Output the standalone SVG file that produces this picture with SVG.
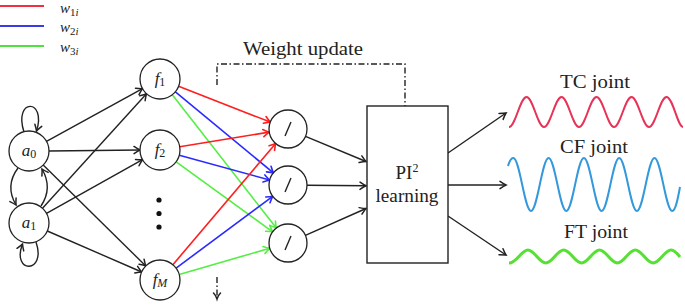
<svg xmlns="http://www.w3.org/2000/svg" width="685" height="307" viewBox="0 0 685 307">
  <style>
    .node { fill: #ffffff; stroke: #222222; stroke-width: 1.3; }
    .edge { fill: none; stroke: #222222; stroke-width: 1.4; }
    .red { fill: none; stroke: #ff1f1f; stroke-width: 1.6; }
    .blue { fill: none; stroke: #2a2aff; stroke-width: 1.6; }
    .green { fill: none; stroke: #55ee44; stroke-width: 1.6; }
    .dashdot { fill: none; stroke: #222222; stroke-width: 1.4; stroke-dasharray: 6 2.5 1.5 2.5; }
    .lbl { font-family: "Liberation Serif", "DejaVu Serif", serif; fill: #222222; }
    .math { font-family: "Liberation Serif", "DejaVu Serif", serif; fill: #222222; font-style: italic; }
  </style>
  <defs>
    <marker id="arrK" viewBox="-8 -5 10 10" refX="0" refY="0" markerWidth="10" markerHeight="10" markerUnits="userSpaceOnUse" orient="auto">
      <path d="M -6 -3.6 Q -2 -0.9 0 0 Q -2 0.9 -6 3.6" fill="none" stroke="#222222" stroke-width="1.5" stroke-linecap="round"/>
    </marker>
    <marker id="arrR" viewBox="-8 -5 10 10" refX="0" refY="0" markerWidth="10" markerHeight="10" markerUnits="userSpaceOnUse" orient="auto">
      <path d="M -6 -3.6 Q -2 -0.9 0 0 Q -2 0.9 -6 3.6" fill="none" stroke="#ff1f1f" stroke-width="1.6" stroke-linecap="round"/>
    </marker>
    <marker id="arrB" viewBox="-8 -5 10 10" refX="0" refY="0" markerWidth="10" markerHeight="10" markerUnits="userSpaceOnUse" orient="auto">
      <path d="M -6 -3.6 Q -2 -0.9 0 0 Q -2 0.9 -6 3.6" fill="none" stroke="#2a2aff" stroke-width="1.6" stroke-linecap="round"/>
    </marker>
    <marker id="arrG" viewBox="-8 -5 10 10" refX="0" refY="0" markerWidth="10" markerHeight="10" markerUnits="userSpaceOnUse" orient="auto">
      <path d="M -6 -3.6 Q -2 -0.9 0 0 Q -2 0.9 -6 3.6" fill="none" stroke="#55ee44" stroke-width="1.6" stroke-linecap="round"/>
    </marker>
  </defs>

  <rect width="685" height="307" fill="#ffffff"/>

  <!-- legend for the three weight sets -->
  <g id="legend">
    <line x1="0" y1="6" x2="44" y2="6" stroke="#f03040" stroke-width="2"/>
    <line x1="0" y1="26" x2="44" y2="26" stroke="#3a3ae8" stroke-width="2"/>
    <line x1="0" y1="46" x2="44" y2="46" stroke="#50e040" stroke-width="2"/>
    <text class="math" x="60" y="13" font-size="15">w<tspan font-size="11" font-style="normal" dy="2.5">1</tspan><tspan font-size="11">i</tspan></text>
    <text class="math" x="60" y="32" font-size="15">w<tspan font-size="11" font-style="normal" dy="2.5">2</tspan><tspan font-size="11">i</tspan></text>
    <text class="math" x="60" y="52" font-size="15">w<tspan font-size="11" font-style="normal" dy="2.5">3</tspan><tspan font-size="11">i</tspan></text>
  </g>

  <!-- connectors -->
  <g id="connectors">
    <!-- recurrent links between a0 and a1 -->
    <path class="edge" d="M 24 132 C 13 98, 47 98, 36.5 131" marker-end="url(#arrK)"/>
    <path class="edge" d="M 36 242 C 47 274, 11 274, 22.5 244" marker-end="url(#arrK)"/>
    <path class="edge" d="M 18 168 C 9 180, 9 193, 16 205" marker-end="url(#arrK)"/>
    <path class="edge" d="M 41 206 C 49 194, 49 181, 42 169" marker-end="url(#arrK)"/>

    <!-- a nodes to f nodes -->
    <line class="edge" x1="46.5" y1="141.4" x2="142.5" y2="88.6" marker-end="url(#arrK)"/>
    <line class="edge" x1="49" y1="151" x2="140" y2="150" marker-end="url(#arrK)"/>
    <line class="edge" x1="43.2" y1="165" x2="145.8" y2="266" marker-end="url(#arrK)"/>
    <line class="edge" x1="42.5" y1="208.2" x2="146.5" y2="93.8" marker-end="url(#arrK)"/>
    <line class="edge" x1="46.5" y1="213.3" x2="142.5" y2="159.7" marker-end="url(#arrK)"/>
    <line class="edge" x1="47.3" y1="231" x2="141.7" y2="272" marker-end="url(#arrK)"/>

    <!-- weighted links f nodes to summation nodes -->
    <line class="red" x1="178.6" y1="86.3" x2="270.3" y2="122.1" marker-end="url(#arrR)"/>
    <line class="blue" x1="175.4" y1="91.8" x2="273.4" y2="172.9" marker-end="url(#arrB)"/>
    <line class="green" x1="172.3" y1="94.8" x2="276.3" y2="228" marker-end="url(#arrG)"/>
    <line class="red" x1="179.7" y1="146.8" x2="269.2" y2="132.1" marker-end="url(#arrR)"/>
    <line class="blue" x1="179.3" y1="155.3" x2="269.7" y2="180" marker-end="url(#arrB)"/>
    <line class="green" x1="176.2" y1="161.8" x2="272.6" y2="231.8" marker-end="url(#arrG)"/>
    <line class="red" x1="172.9" y1="264.7" x2="275.7" y2="143.5" marker-end="url(#arrR)"/>
    <line class="blue" x1="176.1" y1="268.1" x2="272.7" y2="196.3" marker-end="url(#arrB)"/>
    <line class="green" x1="179.2" y1="274.4" x2="269.7" y2="248.3" marker-end="url(#arrG)"/>

    <!-- summation nodes to learning block -->
    <line class="edge" x1="305.5" y1="136.3" x2="366" y2="161.5" marker-end="url(#arrK)"/>
    <line class="edge" x1="307" y1="185.2" x2="366" y2="185.8" marker-end="url(#arrK)"/>
    <line class="edge" x1="305.4" y1="235.3" x2="366" y2="208.5" marker-end="url(#arrK)"/>

    <!-- learning block to joint signals -->
    <line class="edge" x1="448" y1="153" x2="506" y2="113" marker-end="url(#arrK)"/>
    <line class="edge" x1="448" y1="185" x2="506" y2="185" marker-end="url(#arrK)"/>
    <line class="edge" x1="448" y1="216" x2="506" y2="255" marker-end="url(#arrK)"/>

    <!-- weight update feedback -->
    <path class="dashdot" d="M 217 85 V 64 H 405 V 106"/>
    <line class="dashdot" x1="217" y1="277" x2="217" y2="298"/>
    <path d="M 213.5 293 Q 216 295.5 217 299 Q 218 295.5 220.5 293" fill="none" stroke="#222222" stroke-width="1.5" stroke-linecap="round"/>
  </g>

  <!-- input neurons -->
  <g id="a0">
    <circle class="node" cx="29" cy="151" r="20"/>
    <text class="math" x="29" y="156" font-size="17" text-anchor="middle">a<tspan font-size="12" font-style="normal" dy="2">0</tspan></text>
  </g>
  <g id="a1">
    <circle class="node" cx="29" cy="223" r="20"/>
    <text class="math" x="29" y="228" font-size="17" text-anchor="middle">a<tspan font-size="12" font-style="normal" dy="2">1</tspan></text>
  </g>

  <!-- hidden neurons -->
  <g id="f1">
    <circle class="node" cx="160" cy="79" r="20"/>
    <text class="math" x="160" y="84" font-size="17" text-anchor="middle">f<tspan font-size="12" font-style="normal" dy="2">1</tspan></text>
  </g>
  <g id="f2">
    <circle class="node" cx="160" cy="150" r="20"/>
    <text class="math" x="160" y="155" font-size="17" text-anchor="middle">f<tspan font-size="12" font-style="normal" dy="2">2</tspan></text>
  </g>
  <g id="fdots">
    <circle cx="159" cy="200" r="2.6" fill="#111111"/>
    <circle cx="159" cy="213.5" r="2.6" fill="#111111"/>
    <circle cx="159" cy="227" r="2.6" fill="#111111"/>
  </g>
  <g id="fM">
    <circle class="node" cx="160" cy="280" r="20"/>
    <text class="math" x="160" y="285" font-size="17" text-anchor="middle">f<tspan font-size="12" dy="2">M</tspan></text>
  </g>

  <!-- summation / output neurons -->
  <g id="s1">
    <circle class="node" cx="288" cy="129" r="19"/>
    <line x1="285" y1="136" x2="291" y2="122" stroke="#222222" stroke-width="1.4"/>
  </g>
  <g id="s2">
    <circle class="node" cx="288" cy="185" r="19"/>
    <line x1="285" y1="192" x2="291" y2="178" stroke="#222222" stroke-width="1.4"/>
  </g>
  <g id="s3">
    <circle class="node" cx="288" cy="243" r="19"/>
    <line x1="285" y1="250" x2="291" y2="236" stroke="#222222" stroke-width="1.4"/>
  </g>

  <!-- learning block -->
  <g id="pi2">
    <rect x="367" y="106" width="81" height="157" fill="#ffffff" stroke="#222222" stroke-width="1.4"/>
    <text class="lbl" x="407" y="179" font-size="19" text-anchor="middle">PI<tspan font-size="12" dy="-7">2</tspan></text>
    <text class="lbl" x="407" y="202" font-size="19" text-anchor="middle" textLength="63" lengthAdjust="spacingAndGlyphs">learning</text>
  </g>

  <g id="weight-update">
    <text class="lbl" x="243" y="55" font-size="18" textLength="120" lengthAdjust="spacingAndGlyphs">Weight update</text>
  </g>

  <!-- joint trajectories -->
  <g id="tc">
    <text class="lbl" x="595" y="88" font-size="18" text-anchor="middle" textLength="70" lengthAdjust="spacingAndGlyphs">TC joint</text>
    <path d="M 509 127 C 515.4 127 520.1 97 526.5 97 S 537.6 127 544 127 S 555.1 97 561.5 97 S 572.6 127 579 127 S 590.1 97 596.5 97 S 607.6 127 614 127 S 625.1 97 631.5 97 S 642.6 127 649 127 S 660.1 97 666.5 97 S 677.6 127 683 127" fill="none" stroke="#e83258" stroke-width="2"/>
  </g>
  <g id="cf">
    <text class="lbl" x="594" y="153" font-size="18" text-anchor="middle" textLength="68" lengthAdjust="spacingAndGlyphs">CF joint</text>
    <path d="M 508 166 C 509.5 161 511 158 513.3 158 C 519.7 158 524.6 211 531 211 S 542.2 158 548.6 158 S 559.9 211 566.3 211 S 577.5 158 583.9 158 S 595.2 211 601.6 211 S 612.8 158 619.2 158 S 630.5 211 636.9 211 S 648.1 158 654.5 158 S 665.8 211 672.2 211 C 675.5 211 678 198 680 187" fill="none" stroke="#3498dc" stroke-width="2"/>
  </g>
  <g id="ft">
    <text class="lbl" x="596" y="238" font-size="18" text-anchor="middle" textLength="64" lengthAdjust="spacingAndGlyphs">FT joint</text>
    <path d="M 509 263 C 516.5 263 521.4 250 527.9 250 S 539.3 263 545.8 263 S 557.2 250 563.7 250 S 575.1 263 581.6 263 S 593 250 599.5 250 S 610.9 263 617.4 263 S 628.8 250 635.3 250 S 646.7 263 653.2 263 S 664.6 250 671.1 250 C 674 250 677 253 680 257" fill="none" stroke="#55e033" stroke-width="3"/>
  </g>
</svg>
